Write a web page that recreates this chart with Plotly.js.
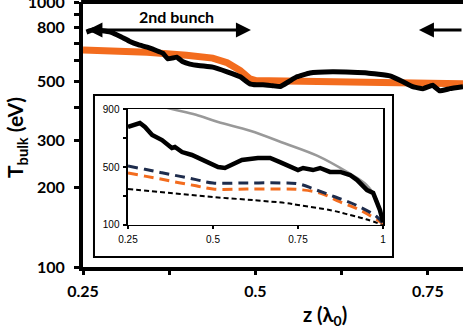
<!DOCTYPE html>
<html>
<head>
<meta charset="utf-8">
<script src="https://cdn.plot.ly/plotly-3.0.1.min.js"></script>
<style>html,body{margin:0;padding:0;background:#fff;}</style>
</head>
<body>
<div id="myGraph" style="width:463px;height:328px;"></div>
<script>
// main panel: simulation (black) and model (orange)
let zSim = [0.255, 0.265, 0.275, 0.290, 0.305, 0.318, 0.330, 0.343, 0.357, 0.366, 0.373, 0.380, 0.386, 0.395, 0.405, 0.420, 0.438, 0.459, 0.478, 0.492, 0.502, 0.511, 0.525, 0.536, 0.548, 0.560, 0.579, 0.612, 0.640, 0.662, 0.695, 0.714, 0.728, 0.743, 0.757, 0.767, 0.782, 0.801];
let tSim = [770, 785, 780, 770, 740, 710, 690, 675, 655, 640, 610, 615, 619, 595, 583, 575, 568, 545, 522, 491, 487, 487, 483, 480, 500, 522, 540, 545, 543, 540, 526, 500, 479, 471, 485, 462, 471, 479];
let zModel = [0.25, 0.30, 0.343, 0.40, 0.438, 0.459, 0.478, 0.492, 0.502, 0.52, 0.60, 0.70, 0.801];
let tModel = [659, 653, 646, 630, 614, 590, 551, 513, 504, 504, 502, 498, 492];

let yTickVals = [100, 200, 300, 400, 500, 600, 700, 800, 900, 1000];
let yTickText = ['100', '200', '300', '', '500', '', '', '800', '', '1000'];
let xTickVals = [0.25, 0.375, 0.5, 0.625, 0.75];
let xTickText = ['0.25', '', '0.5', '', '0.75'];

// inset panel
let zIn = [0.25, 0.285, 0.30, 0.321, 0.35, 0.379, 0.388, 0.409, 0.438, 0.468, 0.497, 0.515, 0.535, 0.556, 0.585, 0.632, 0.668, 0.697, 0.726, 0.75, 0.765, 0.794, 0.815, 0.844, 0.874, 0.903, 0.924, 0.953, 0.971, 0.991, 1.0];
let tIn = [776, 803, 776, 721, 686, 631, 638, 603, 583, 548, 514, 500, 493, 514, 548, 562, 562, 534, 500, 479, 493, 479, 493, 466, 466, 445, 410, 341, 321, 203, 121];
let zGrey = [0.25, 0.379, 0.45, 0.515, 0.609, 0.712, 0.806, 0.894, 0.95, 0.98, 1.0];
let tGrey = [975, 900, 860, 810, 750, 662, 578, 466, 380, 280, 130];
let zNavy = [0.25, 0.30, 0.35, 0.40, 0.45, 0.50, 0.60, 0.70, 0.75, 0.80, 0.86, 0.92, 0.98, 1.0];
let tNavy = [507, 484, 460, 437, 413, 390, 390, 390, 385, 345, 293, 238, 160, 110];
let zOrange = [0.25, 0.30, 0.35, 0.40, 0.45, 0.50, 0.60, 0.70, 0.75, 0.815, 0.874, 0.933, 0.99, 1.0];
let tOrange = [459, 437, 415, 392, 370, 348, 348, 348, 345, 321, 259, 203, 125, 110];
let zDash = [0.25, 0.375, 0.5, 0.625, 0.712, 0.75, 0.85, 0.903, 0.95, 1.0];
let tDash = [348, 320, 293, 270, 252, 238, 200, 169, 140, 100];

let myGraph = document.getElementById('myGraph');

let trace1 = {
    x: zModel, y: tModel, type: 'scatter', mode: 'lines',
    line: {color: '#F36C1E', width: 7}, xaxis: 'x', yaxis: 'y'
};
let trace2 = {
    x: zSim, y: tSim, type: 'scatter', mode: 'lines',
    line: {color: '#000000', width: 5, shape: 'spline', smoothing: 0.3}, xaxis: 'x', yaxis: 'y'
};
let trace3 = {
    x: zGrey, y: tGrey, type: 'scatter', mode: 'lines',
    line: {color: '#999999', width: 2.5, shape: 'spline'}, xaxis: 'x2', yaxis: 'y2'
};
let trace4 = {
    x: zDash, y: tDash, type: 'scatter', mode: 'lines',
    line: {color: '#000000', width: 2, dash: '5px,3px', shape: 'spline'}, xaxis: 'x2', yaxis: 'y2'
};
let trace5 = {
    x: zOrange, y: tOrange, type: 'scatter', mode: 'lines',
    line: {color: '#F36C1E', width: 3, dash: '10px,6px', shape: 'spline'}, xaxis: 'x2', yaxis: 'y2'
};
let trace6 = {
    x: zNavy, y: tNavy, type: 'scatter', mode: 'lines',
    line: {color: '#1E2C4C', width: 3, dash: '10px,6px', shape: 'spline'}, xaxis: 'x2', yaxis: 'y2'
};
let trace7 = {
    x: zIn, y: tIn, type: 'scatter', mode: 'lines',
    line: {color: '#000000', width: 4.5}, xaxis: 'x2', yaxis: 'y2'
};

let data = [trace1, trace2, trace3, trace4, trace5, trace6, trace7];

let boldFont = {family: 'Lato, sans-serif', size: 16, color: '#000', weight: 'bold'};
let smallFont = {family: 'Liberation Sans, Arial, sans-serif', size: 10, color: '#000'};

let layout = {
    width: 463,
    height: 328,
    margin: {l: 83, r: 0, t: 2, b: 61},
    paper_bgcolor: '#ffffff',
    plot_bgcolor: 'rgba(0,0,0,0)',
    showlegend: false,
    xaxis: {
        range: [0.25, 0.801], tickvals: xTickVals, ticktext: xTickText,
        showline: true, linewidth: 4, linecolor: '#000',
        ticks: 'outside', ticklen: 4, tickwidth: 3, tickcolor: '#000',
        showgrid: false, zeroline: false, tickfont: boldFont, ticklabelstandoff: 3
    },
    yaxis: {
        type: 'log', range: [2, 3], tickvals: yTickVals, ticktext: yTickText,
        showline: true, linewidth: 4, linecolor: '#000',
        ticks: 'outside', ticklen: 5, tickwidth: 3, tickcolor: '#000',
        showgrid: false, zeroline: false, tickfont: boldFont, ticklabelstandoff: 6,
        ticklabeloverflow: 'allow'
    },
    xaxis2: {
        domain: [0.1184, 0.7895], anchor: 'y2', range: [0.25, 1],
        tickvals: [0.25, 0.5, 0.75, 1], ticktext: ['0.25', '0.5', '0.75', '1'],
        showline: true, mirror: true, linewidth: 1.5, linecolor: '#000',
        ticks: 'outside', ticklen: 3, tickwidth: 1.5, tickcolor: '#000',
        showgrid: false, zeroline: false, tickfont: smallFont, ticklabelstandoff: 2
    },
    yaxis2: {
        domain: [0.1585, 0.5962], anchor: 'x2', range: [100, 900],
        tickvals: [100, 300, 500, 700, 900], ticktext: ['100', '', '500', '', '900'],
        showline: true, mirror: true, linewidth: 1.5, linecolor: '#000',
        ticks: 'outside', ticklen: 3, tickwidth: 1.5, tickcolor: '#000',
        showgrid: false, zeroline: false, tickfont: smallFont, ticklabelstandoff: 2
    },
    shapes: [
        {type: 'rect', xref: 'paper', yref: 'paper',
         x0: 0.0289, x1: 0.8158, y0: 0.0377, y1: 0.649,
         line: {color: '#000', width: 2}, fillcolor: '#ffffff', layer: 'below'},
        // top frame line
        {type: 'line', xref: 'paper', yref: 'paper', x0: -0.005, x1: 1, y0: 1, y1: 1,
         line: {color: '#000', width: 4}}
    ],
    annotations: [
        {text: 'z (λ<sub>0</sub>)', xref: 'paper', yref: 'paper', x: 0.637, y: -0.183,
         xanchor: 'center', yanchor: 'middle', showarrow: false,
         font: {family: 'Lato, sans-serif', size: 20, color: '#000', weight: 'bold'}},
        {text: 'T<sub>bulk</sub> (eV)', xref: 'paper', yref: 'paper', x: -0.176, y: 0.487, textangle: -90,
         xanchor: 'center', yanchor: 'middle', showarrow: false,
         font: {family: 'Lato, sans-serif', size: 21, color: '#000', weight: 'bold'}},
        {text: '2nd bunch', xref: 'paper', yref: 'paper', x: 0.247, y: 0.947,
         xanchor: 'center', yanchor: 'middle', showarrow: false,
         font: {family: 'Lato, sans-serif', size: 16, color: '#000', weight: 'bold'}},
        {text: '', xref: 'paper', yref: 'paper', x: 0.442, y: 0.894, ax: -165, ay: 0,
         showarrow: true, arrowside: 'end+start', arrowhead: 2, startarrowhead: 2,
         arrowwidth: 3, arrowsize: 1, startarrowsize: 1, arrowcolor: '#000'},
        {text: '', xref: 'paper', yref: 'paper', x: 0.884, y: 0.894, ax: 60, ay: 0,
         showarrow: true, arrowhead: 2, arrowwidth: 3, arrowsize: 1, arrowcolor: '#000'}
    ]
};

Plotly.newPlot(myGraph, data, layout, {displayModeBar: false, staticPlot: true});
</script>
</body>
</html>
